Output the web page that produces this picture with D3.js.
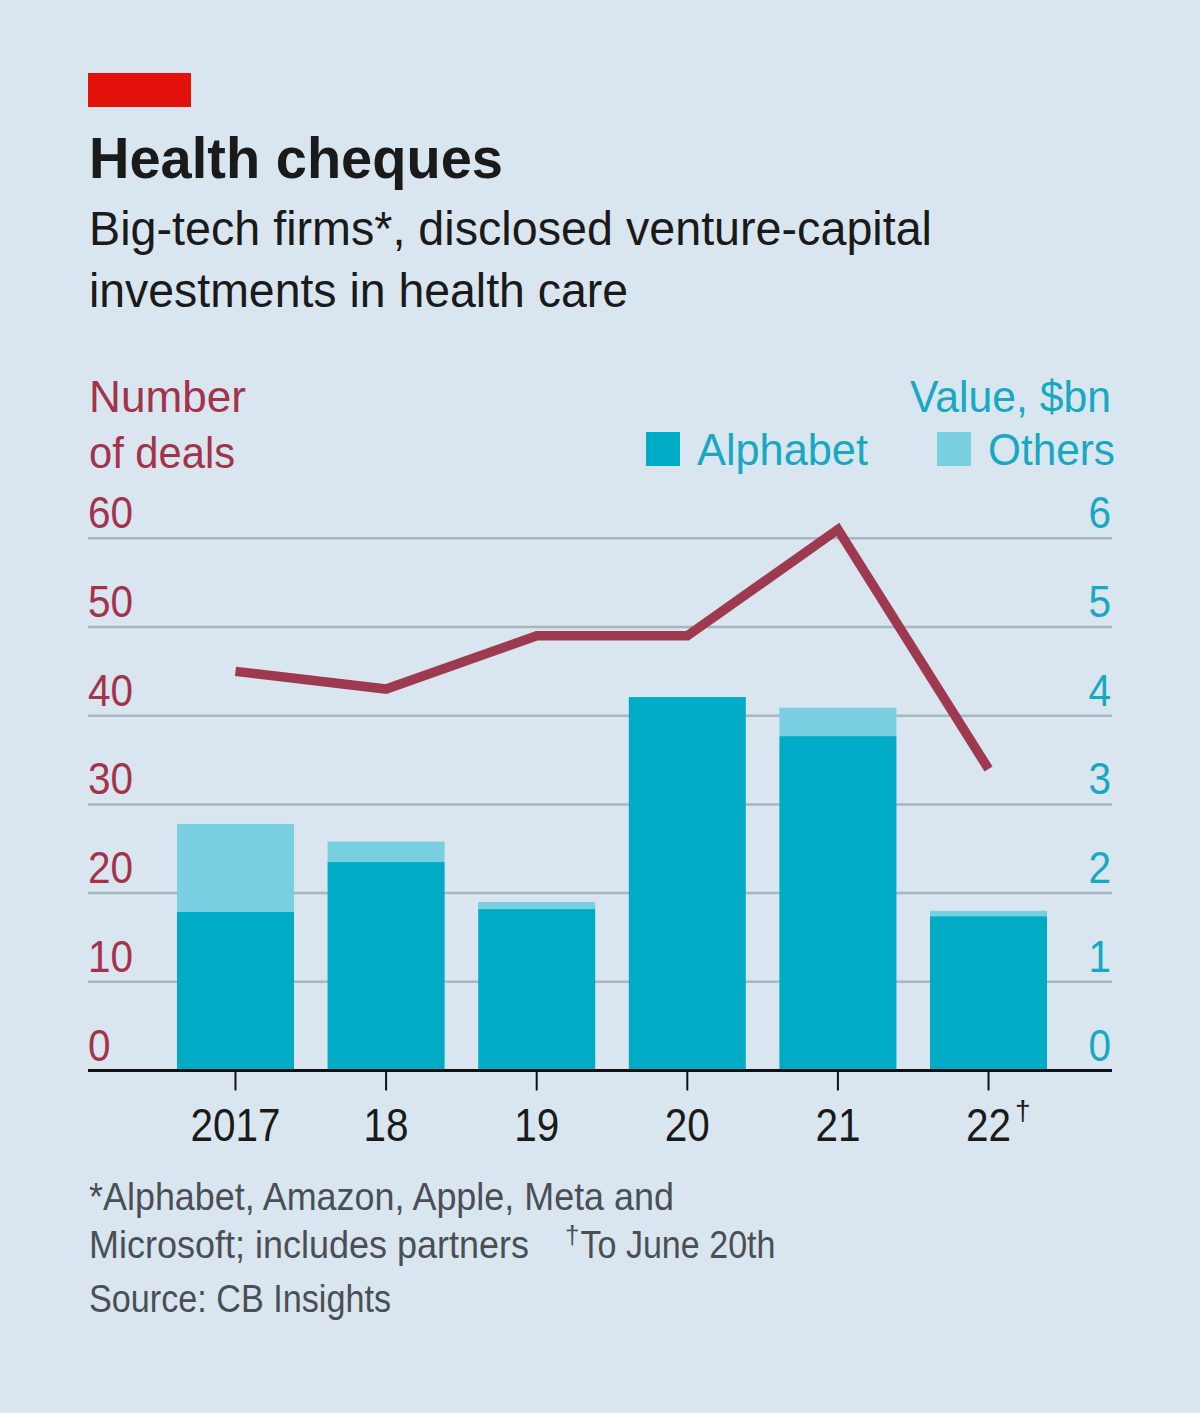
<!DOCTYPE html>
<html><head><meta charset="utf-8">
<script src="https://cdn.jsdelivr.net/npm/d3@7"></script>
<style>
html,body{margin:0;padding:0;background:#d9e6ef;}
svg{display:block;}
text{font-family:"Liberation Sans","Noto Sans",sans-serif;}
</style></head>
<body>
<script>
const years = ["2017","18","19","20","21","22"];
const alphabet = [1.79, 2.35, 1.82, 4.21, 3.77, 1.74];
const others = [0.99, 0.23, 0.08, 0.0, 0.32, 0.06];
const deals = [45, 43, 49, 49, 61, 34];
const dealTicks = [0,10,20,30,40,50,60];
const valueTicks = [0,1,2,3,4,5,6];

const W = 1200, H = 1413;
const svg = d3.select("body").append("svg").attr("width", W).attr("height", H);
svg.append("rect").attr("width", W).attr("height", H).attr("fill", "#d9e6ef");

const left = 88, right = 1112, y0 = 1070.5, yTop = 538.3;
const x = d3.scaleBand().domain(years).range([159.5, 1064.5]).paddingInner(0.223).paddingOuter(0.116);
const yD = d3.scaleLinear().domain([0,60]).range([y0, yTop]);
const yV = d3.scaleLinear().domain([0,6]).range([y0, yTop]);

const cRed = "#a3324b", cBlue = "#17a8c3", cAlpha = "#00abc6", cOther = "#78cfe0", cLine = "#9e3a4f";

function fitW(sel, w) { sel.attr("textLength", w).attr("lengthAdjust", "spacingAndGlyphs"); return sel; }
function condense(sel, f) {
  sel.each(function() { const n = this.getComputedTextLength(); d3.select(this).attr("textLength", n * f).attr("lengthAdjust", "spacingAndGlyphs"); });
  return sel;
}

// header
svg.append("rect").attr("x", 88).attr("y", 73).attr("width", 103).attr("height", 34).attr("fill", "#e3120b");
fitW(svg.append("text").attr("x", 89).attr("y", 178).text("Health cheques")
  .attr("font-size", 58).attr("font-weight", "bold").attr("fill", "#1a1a1a"), 414);
fitW(svg.append("text").attr("x", 89).attr("y", 245).text("Big-tech firms*, disclosed venture-capital")
  .attr("font-size", 49).attr("fill", "#1a1a1a"), 843);
fitW(svg.append("text").attr("x", 89).attr("y", 307).text("investments in health care")
  .attr("font-size", 49).attr("fill", "#1a1a1a"), 539);

// axis titles
fitW(svg.append("text").attr("x", 89).attr("y", 412).text("Number").attr("font-size", 45).attr("fill", cRed), 157);
fitW(svg.append("text").attr("x", 89).attr("y", 468).text("of deals").attr("font-size", 45).attr("fill", cRed), 146);
fitW(svg.append("text").attr("x", 1111).attr("y", 412).attr("text-anchor", "end").text("Value, $bn").attr("font-size", 45).attr("fill", cBlue), 201);

// legend
svg.append("rect").attr("x", 646).attr("y", 432).attr("width", 34).attr("height", 34).attr("fill", cAlpha);
fitW(svg.append("text").attr("x", 697).attr("y", 465).text("Alphabet").attr("font-size", 45).attr("fill", cBlue), 171);
svg.append("rect").attr("x", 937).attr("y", 432).attr("width", 34).attr("height", 34).attr("fill", cOther);
fitW(svg.append("text").attr("x", 988).attr("y", 465).text("Others").attr("font-size", 45).attr("fill", cBlue), 127);

// gridlines
svg.append("g").selectAll("line").data(dealTicks.filter(d => d > 0)).join("line")
  .attr("x1", left).attr("x2", right)
  .attr("y1", d => yD(d)).attr("y2", d => yD(d))
  .attr("stroke", "#a8b6c0").attr("stroke-width", 2.5);

// tick labels
condense(svg.append("g").selectAll("text").data(dealTicks).join("text")
  .attr("x", left).attr("y", d => yD(d) - 10).text(d => d)
  .attr("font-size", 45).attr("fill", cRed), 0.9);
condense(svg.append("g").selectAll("text").data(valueTicks).join("text")
  .attr("x", 1111).attr("y", d => yV(d) - 10).attr("text-anchor", "end").text(d => d)
  .attr("font-size", 45).attr("fill", cBlue), 0.9);

// bars
const bars = svg.append("g");
bars.selectAll("rect.a").data(years).join("rect").attr("class", "a")
  .attr("x", d => x(d)).attr("width", x.bandwidth())
  .attr("y", (d,i) => yV(alphabet[i])).attr("height", (d,i) => yV(0) - yV(alphabet[i]))
  .attr("fill", cAlpha);
bars.selectAll("rect.o").data(years).join("rect").attr("class", "o")
  .attr("x", d => x(d)).attr("width", x.bandwidth())
  .attr("y", (d,i) => yV(alphabet[i] + others[i])).attr("height", (d,i) => yV(alphabet[i]) - yV(alphabet[i] + others[i]))
  .attr("fill", cOther);

// line
const line = d3.line().x((d,i) => x(years[i]) + x.bandwidth()/2).y(d => yD(d));
svg.append("path").datum(deals).attr("d", line)
  .attr("fill", "none").attr("stroke", cLine).attr("stroke-width", 9.5)
  .attr("stroke-linejoin", "miter").attr("stroke-linecap", "butt");

// x axis
const xAxis = svg.append("g").attr("transform", `translate(0,${y0})`);
xAxis.append("line").attr("x1", left).attr("x2", right).attr("stroke", "#111").attr("stroke-width", 3);
xAxis.selectAll("line.t").data(years).join("line").attr("class", "t")
  .attr("x1", d => x(d) + x.bandwidth()/2).attr("x2", d => x(d) + x.bandwidth()/2)
  .attr("y1", 0).attr("y2", 20).attr("stroke", "#111").attr("stroke-width", 2);
const xl = xAxis.selectAll("text.l").data(years).join("text").attr("class", "l")
  .attr("y", 70).attr("text-anchor", "start")
  .attr("font-size", 46).attr("fill", "#1a1a1a");
xl.each(function(d) {
  const t = d3.select(this);
  const main = t.append("tspan").text(d);
  const n = main.node().getComputedTextLength() * 0.88;
  main.attr("textLength", n).attr("lengthAdjust", "spacingAndGlyphs");
  t.attr("x", x(d) + x.bandwidth()/2 - n/2);
  if (d === "22") t.append("tspan").attr("dx", 4).attr("dy", -21).attr("font-size", 28).text("†");
});

// footnotes
const fc = "#4a4f55";
fitW(svg.append("text").attr("x", 89).attr("y", 1210).text("*Alphabet, Amazon, Apple, Meta and").attr("font-size", 39).attr("fill", fc), 585);
fitW(svg.append("text").attr("x", 89).attr("y", 1258).text("Microsoft; includes partners").attr("font-size", 39).attr("fill", fc), 440);
const fn2 = svg.append("text").attr("x", 565).attr("y", 1258).attr("fill", fc).attr("font-size", 39);
fn2.append("tspan").attr("font-size", 26).attr("dy", -14).text("†");
fitW(fn2.append("tspan").attr("dy", 14).attr("dx", 1).text("To June 20th"), 195);
fitW(svg.append("text").attr("x", 89).attr("y", 1312).text("Source: CB Insights").attr("font-size", 39).attr("fill", fc), 302);
</script>
</body></html>
